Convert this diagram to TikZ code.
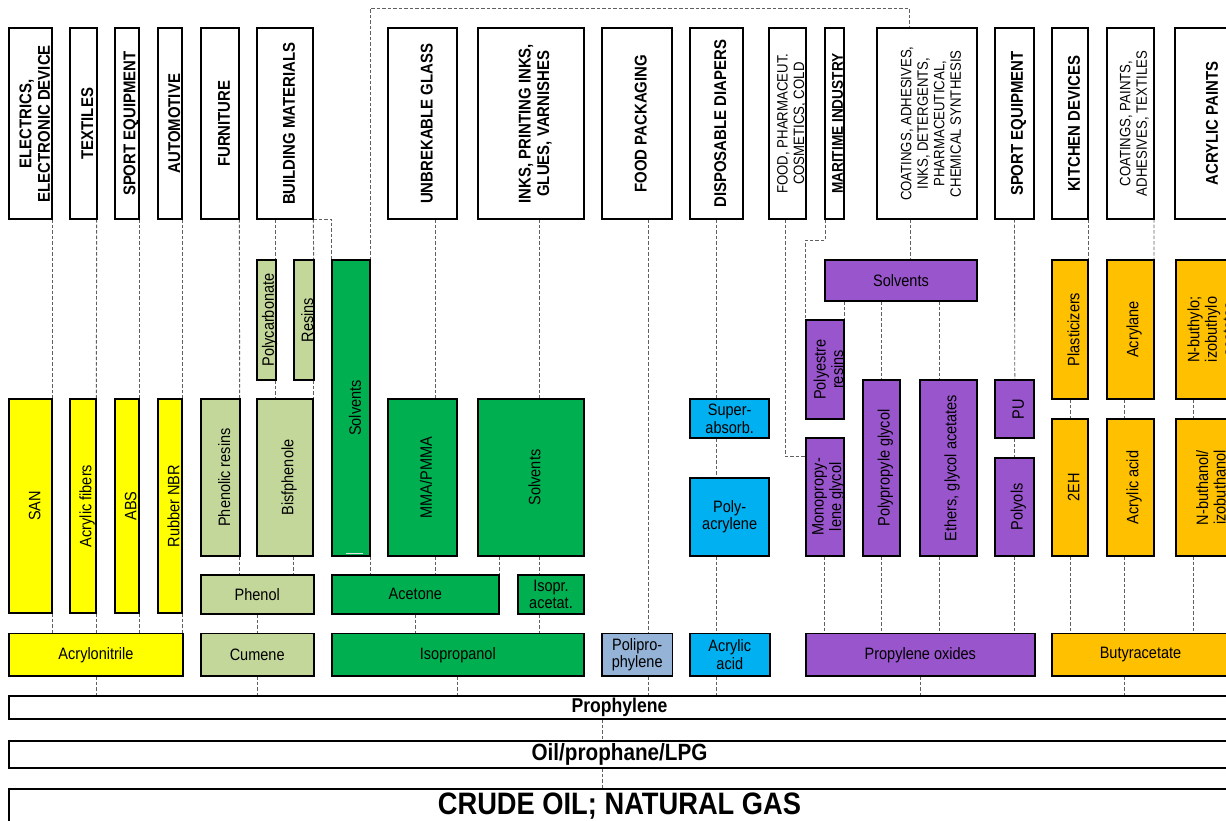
\documentclass[tikz,border=0pt]{standalone}
\usepackage{fontspec}
\setmainfont{Liberation Sans}[FakeStretch=0.88]
\usetikzlibrary{calc}
\pgfdeclarelayer{bg}
\pgfsetlayers{bg,main}
\definecolor{cYel}{HTML}{FFFF00}
\definecolor{cLgr}{HTML}{C4D79B}
\definecolor{cGrn}{HTML}{00B050}
\definecolor{cGbl}{HTML}{95B3D7}
\definecolor{cBlu}{HTML}{00B0F0}
\definecolor{cPur}{HTML}{9955CC}
\definecolor{cOra}{HTML}{FFC000}
\definecolor{cDash}{HTML}{606060}
\tikzset{
 bx/.style={draw=black, line width=1.8pt, inner sep=0pt, outer sep=0pt, rectangle},
 hd/.style={bx, fill=white},
 ye/.style={bx, fill=cYel},
 lg/.style={bx, fill=cLgr},
 gr/.style={bx, fill=cGrn},
 gb/.style={bx, fill=cGbl},
 bl/.style={bx, fill=cBlu},
 pu/.style={bx, fill=cPur},
 og/.style={bx, fill=cOra},
 hb/.style={rotate=90, align=center, inner sep=0pt, font=\bfseries\fontsize{17}{18.5}\selectfont},
 hbs/.style={rotate=90, align=center, inner sep=0pt, font=\bfseries\fontsize{15.5}{17}\selectfont},
 hr/.style={rotate=90, align=center, inner sep=0pt, font=\fontsize{15}{16.5}\selectfont},
 vt/.style={rotate=90, align=center, inner sep=0pt, font=\fontsize{16.5}{17.5}\selectfont},
 ht/.style={align=center, inner sep=0pt, font=\fontsize{16.5}{17.5}\selectfont},
 pb/.style={align=center, inner sep=0pt, font=\bfseries\fontsize{20}{22}\selectfont},
 ob/.style={align=center, inner sep=0pt, font=\bfseries\fontsize{23.5}{25}\selectfont},
 cb/.style={align=center, inner sep=0pt, font=\bfseries\fontsize{31}{33}\selectfont},
 dl/.style={draw=cDash, line width=0.9pt, dash pattern=on 3.5pt off 2pt},
}
\newcommand\BX[9]{%
  \node[#6, minimum width={#4-#2}, minimum height={#5-#3}] (#1) at ({(#2+#4)/2},{(#3+#5)/2}) {};
  \node[#7] (#1t) at ($(#1.center)+(#8,0)$) {#9};}
\begin{document}
\begin{tikzpicture}[x=1pt,y=-1pt]
\useasboundingbox (0,0) rectangle (1226,820);
% headers
\BX{hElec}{9.3}{28.3}{52.3}{219}{hd}{hb}{4}{ELECTRICS,\\ELECTRONIC DEVICE}
\BX{hTex}{70}{28.3}{96.7}{219}{hd}{hb}{4}{TEXTILES}
\BX{hSport}{115}{28.3}{139.3}{219}{hd}{hb}{4}{SPORT EQUIPMENT}
\BX{hAuto}{158.3}{28.3}{182.3}{219}{hd}{hb}{4}{AUTOMOTIVE}
\BX{hFurn}{200.7}{28.3}{239.3}{219}{hd}{hb}{4}{FURNITURE}
\BX{hBuild}{256.7}{28.3}{313.3}{219}{hd}{hb}{4}{BUILDING MATERIALS}
\BX{hGlass}{388.3}{28.3}{457.3}{219}{hd}{hb}{4}{UNBREKABLE GLASS}
\BX{hInks}{478.3}{28.3}{584}{219}{hd}{hb}{4}{INKS, PRINTING INKS,\\GLUES, VARNISHES}
\BX{hFood}{601.7}{28.3}{672}{219}{hd}{hb}{4}{FOOD PACKAGING}
\BX{hDiap}{690}{28.3}{742.7}{219}{hd}{hb}{4}{DISPOSABLE DIAPERS}
\BX{hFph}{769}{28.3}{806}{219}{hd}{hr}{4}{FOOD, PHARMACEUT.\\COSMETICS, COLD}
\BX{hMar}{825.3}{28.3}{844}{219}{hd}{hbs}{3}{MARITIME INDUSTRY}
\BX{hCoat}{877.3}{28.3}{976.7}{219}{hd}{hr}{4}{COATINGS, ADHESIVES,\\INKS, DETERGENTS,\\PHARMACEUTICAL,\\CHEMICAL SYNTHESIS}
\BX{hSport2}{995}{28.3}{1034}{219}{hd}{hb}{4}{SPORT EQUIPMENT}
\BX{hKit}{1051.7}{28.3}{1088.3}{219}{hd}{hb}{4}{KITCHEN DEVICES}
\BX{hCoat2}{1106.7}{28.3}{1154}{219}{hd}{hr}{4}{COATINGS, PAINTS,\\ADHESIVES, TEXTILES}
\BX{hAcr}{1175}{28.3}{1241}{219}{hd}{hb}{4}{ACRYLIC PAINTS}
% upper products
\BX{pcarb}{256.7}{260}{275.7}{380}{lg}{vt}{3.5}{Polycarbonate}
\BX{resins}{293.7}{260}{313.7}{380}{lg}{vt}{3.5}{Resins}
\BX{solv1}{331.7}{260}{370}{556}{gr}{vt}{4}{Solvents}
\BX{solv3}{825}{260}{977}{301}{pu}{ht}{0}{Solvents}
\BX{plast}{1051.7}{260}{1088.3}{399}{og}{vt}{3.5}{Plasticizers}
\BX{acryl}{1107}{260}{1154}{399}{og}{vt}{3.5}{Acrylane}
\BX{nbo}{1175.7}{260}{1240}{399}{og}{vt}{3}{N-buthylo;\\izobuthylo\\acetates}
\BX{polyest}{805.7}{320}{844}{419}{pu}{vt}{3.5}{Polyestre\\resins}
\BX{ppg}{863.3}{380}{900.3}{556}{pu}{vt}{3.5}{Polypropyle glycol}
\BX{eth}{920.3}{380}{977}{556}{pu}{vt}{3.5}{Ethers, glycol acetates}
\BX{pu}{995.3}{380}{1034.3}{438}{pu}{vt}{3.5}{PU}
\BX{polyols}{995.3}{457.7}{1034.3}{556}{pu}{vt}{3.5}{Polyols}
\BX{mono}{805.7}{437.7}{844}{556}{pu}{vt}{3.5}{Monopropy-\\lene glycol}
\BX{twoeh}{1051.7}{419}{1088.3}{556}{og}{vt}{3.5}{2EH}
\BX{aacid2}{1107}{419}{1154}{556}{og}{vt}{3.5}{Acrylic acid}
\BX{nbol}{1175.7}{419}{1240}{556}{og}{vt}{3}{N-buthanol/\\izobuthanol}
% middle row
\BX{san}{9.3}{399}{52.3}{613}{ye}{vt}{4}{SAN}
\BX{fib}{69.7}{399}{96.3}{613}{ye}{vt}{4}{Acrylic fibers}
\BX{abs}{115}{399}{139.3}{613}{ye}{vt}{3.5}{ABS}
\BX{nbr}{157.7}{399}{182.3}{613}{ye}{vt}{3.5}{Rubber NBR}
\BX{phres}{200.7}{399}{239.7}{556}{lg}{vt}{4}{Phenolic resins}
\BX{bisph}{256.7}{399}{313.3}{556}{lg}{vt}{4}{Bisfphenole}
\BX{mma}{388}{399}{457}{556}{gr}{vt}{3.5}{MMA/PMMA}
\BX{solv2}{478}{399}{584}{556}{gr}{vt}{3.5}{Solvents}
\BX{sa}{690}{399}{769.3}{438.3}{bl}{ht}{0}{Super-\\absorb.}
\BX{pa}{690}{477.7}{769.3}{556}{bl}{ht}{0}{Poly-\\acrylene}
% row C
\BX{phenol}{200.7}{574.7}{313.7}{614}{lg}{ht}{0}{Phenol}
\BX{acet}{331.7}{574.7}{499}{614}{gr}{ht}{0}{Acetone}
\BX{isopr}{518}{574.7}{584}{614}{gr}{ht}{0}{Isopr.\\acetat.}
% row D
\BX{acn}{9}{633.5}{183}{676}{ye}{ht}{0}{Acrylonitrile}
\BX{cum}{200.7}{633.5}{313.7}{676}{lg}{ht}{0}{Cumene}
\BX{iso}{331.7}{633.5}{584}{676}{gr}{ht}{0}{Isopropanol}
\BX{pp}{602}{633.5}{672.4}{676}{gb}{ht}{0}{Polipro-\\phylene}
\BX{aa}{690}{633.5}{769.6}{676}{bl}{ht}{0}{Acrylic\\acid}
\BX{po}{805.6}{633.5}{1035}{676}{pu}{ht}{0}{Propylene oxides}
\BX{bac}{1052}{633.5}{1229}{676}{og}{ht}{0}{Butyracetate}
% bars
\BX{prop}{9}{696}{1230}{719}{hd}{pb}{0}{Prophylene}
\BX{oil}{9}{741}{1230}{768}{hd}{ob}{0}{Oil/prophane/LPG}
\BX{crude}{9}{789}{1230}{823}{hd}{cb}{0}{CRUDE OIL; NATURAL GAS}
\draw[white!80!gray, line width=1.2pt] ($(solv1.south)+(-5,-2.5)$) -- ++(17,0);
% connectors
\coordinate (topR) at (909,8);
\coordinate (xM) at (435,0);
\coordinate (xS) at (539,0);
\coordinate (xP) at (648,0);
\coordinate (xF) at (785.7,0);
\coordinate (xC) at (910,0);
\coordinate (xE) at (939.3,0);
\coordinate (xO) at (1124.7,0);
\coordinate (xN) at (1193.3,0);
\coordinate (xB) at (602,0);
\begin{pgfonlayer}{bg}
\draw[dl] (hElec.south east) -- (san.north east);
\draw[dl] (hTex.south east) -- (fib.north east);
\draw[dl] (hSport.south east) -- (abs.north east);
\draw[dl] (hAuto.south east) -- (nbr.north east);
\draw[dl] (san.south east) -- (san.south east |- acn.north);
\draw[dl] (fib.south east) -- (fib.south east |- acn.north);
\draw[dl] (abs.south east) -- (abs.south east |- acn.north);
\draw[dl] (nbr.south east) -- (nbr.south east |- acn.north);
\draw[dl] (acn.south) -- (acn.south |- prop.north);
\draw[dl] (hFurn.south east) -- (phres.north east);
\draw[dl] (pcarb.north east |- hBuild.south) -- (pcarb.north east);
\draw[dl] (hBuild.south east) -- (resins.north east);
\draw[dl] (pcarb.south east) -- (pcarb.south east |- bisph.north);
\draw[dl] (resins.south east) -- (resins.south east |- bisph.north);
\draw[dl] (hBuild.south east) -| (solv1.north west);
\draw[dl] (solv1.north east) |- (topR) -- (topR |- hCoat.north);
\draw[dl] (phres.south east) -- (phres.south east |- phenol.north);
\draw[dl] (bisph.south -| resins.west) -- (phenol.north -| resins.west);
\draw[dl] (phenol.south) -- (cum.north);
\draw[dl] (cum.south) -- (cum.south |- prop.north);
\draw[dl] (solv1.south east) -- (solv1.south east |- acet.north);
\draw[dl] (hGlass.south -| xM) -- (mma.north -| xM);
\draw[dl] (mma.south -| xM) -- (acet.north -| xM);
\draw[dl] (hInks.south -| xS) -- (solv2.north -| xS);
\draw[dl] (solv2.south -| xS) -- (isopr.north -| xS);
\draw[dl] (solv2.south -| acet.east) -- (acet.north east);
\draw[dl] (acet.south) -- (acet.south |- iso.north);
\draw[dl] (isopr.south -| xS) -- (iso.north -| xS);
\draw[dl] (iso.south) -- (iso.south |- prop.north);
\draw[dl] (hFood.south -| xP) -- (pp.north -| xP);
\draw[dl] (pp.south -| xP) -- (prop.north -| xP);
\draw[dl] (hDiap.south) -- (hDiap.south |- sa.north);
\draw[dl] (sa.south -| hDiap.south) -- (pa.north -| hDiap.south);
\draw[dl] (pa.south -| hDiap.south) -- (aa.north -| hDiap.south);
\draw[dl] (aa.south -| hDiap.south) -- (prop.north -| hDiap.south);
\draw[dl] (hFph.south -| xF) |- ($(mono.north west)+(0,19)$);
\draw[dl] (hMar.south west) -- ++(0,21) -| (polyest.north west);
\draw[dl] (hCoat.south -| xC) -- (solv3.north -| xC);
\draw[dl] (solv3.south -| polyest.east) -- (polyest.north east);
\draw[dl] (solv3.south -| ppg.north) -- (ppg.north);
\draw[dl] (solv3.south -| xE) -- (eth.north -| xE);
\draw[dl] (hSport2.south) -- (pu.north);
\draw[dl] (pu.south) -- (polyols.north);
\draw[dl] (mono.south) -- (mono.south |- po.north);
\draw[dl] (ppg.south) -- (ppg.south |- po.north);
\draw[dl] (eth.south -| xE) -- (po.north -| xE);
\draw[dl] (polyols.south) -- (polyols.south |- po.north);
\draw[dl] (po.south) -- (po.south |- prop.north);
\draw[dl] (hKit.south east) -- (plast.north east);
\draw[dl] (hCoat2.south east) -- (acryl.north east);
\draw[dl] (plast.south) -- (twoeh.north);
\draw[dl] (acryl.south -| xO) -- (aacid2.north -| xO);
\draw[dl] (nbo.south -| xN) -- (nbol.north -| xN);
\draw[dl] (twoeh.south) -- (twoeh.south |- bac.north);
\draw[dl] (aacid2.south -| xO) -- (bac.north -| xO);
\draw[dl] (nbol.south -| xN) -- (bac.north -| xN);
\draw[dl] (bac.south -| xO) -- (prop.north -| xO);
\draw[dl] (prop.south -| xB) -- (oil.north -| xB);
\draw[dl] (oil.south -| xB) -- (crude.north -| xB);
\end{pgfonlayer}
\end{tikzpicture}
\end{document}
